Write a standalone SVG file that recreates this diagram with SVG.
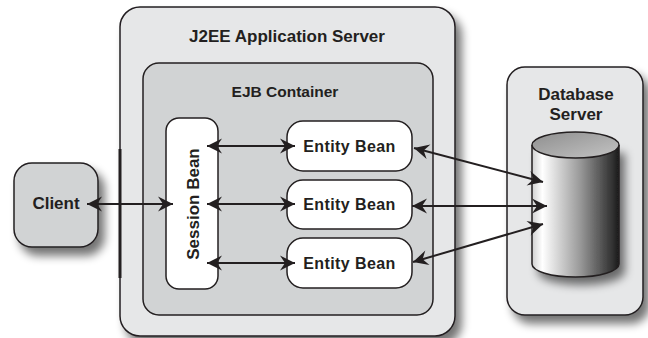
<svg xmlns="http://www.w3.org/2000/svg" width="648" height="338" viewBox="0 0 648 338">
<style>
.box{stroke:#231f20;stroke-width:1.5}
.t{font-family:"Liberation Sans",Arial,sans-serif;font-weight:bold;fill:#231f20}
.conn{stroke:#231f20;stroke-width:2;fill:none;marker-start:url(#ah);marker-end:url(#ah)}
</style>
<defs>
<marker id="ah" markerUnits="userSpaceOnUse" viewBox="-16 -8 17 16" refX="0" refY="0" markerWidth="17" markerHeight="16" orient="auto-start-reverse">
<path d="M0,0 L-15,-7.5 L-10,0 L-15,7.5 Z" fill="#231f20"/>
</marker>
<filter id="sh" x="-20%" y="-20%" width="150%" height="150%">
<feGaussianBlur in="SourceAlpha" stdDeviation="5"/>
<feOffset dx="6" dy="8" result="b"/>
<feComponentTransfer><feFuncA type="linear" slope="0.55"/></feComponentTransfer>
<feMerge><feMergeNode/><feMergeNode in="SourceGraphic"/></feMerge>
</filter>
<linearGradient id="body" x1="0" y1="0" x2="1" y2="0">
<stop offset="0" stop-color="#d0d0d0"/>
<stop offset="0.12" stop-color="#ffffff"/>
<stop offset="0.55" stop-color="#9a9a9a"/>
<stop offset="0.95" stop-color="#2a2a2a"/>
<stop offset="1" stop-color="#1a1a1a"/>
</linearGradient>
<linearGradient id="top" x1="0" y1="0" x2="1" y2="1">
<stop offset="0" stop-color="#8e8e8e"/>
<stop offset="1" stop-color="#c4c4c4"/>
</linearGradient>
</defs>

<g id="j2ee-server">
<rect class="box" x="120" y="7" width="335" height="329" rx="20" fill="#e6e7e8" filter="url(#sh)"/>
<text class="t" x="287" y="42" font-size="17" text-anchor="middle">J2EE Application Server</text>
</g>
<g id="boundary">
<line x1="120" y1="149" x2="120" y2="278" stroke="#231f20" stroke-width="3"/>
</g>
<g id="ejb-container">
<rect class="box" x="143" y="63" width="290" height="252" rx="16" fill="#d1d3d4"/>
<text class="t" x="285" y="97" font-size="15.5" text-anchor="middle">EJB Container</text>
</g>
<g id="session-bean">
<rect class="box" x="166" y="118" width="52" height="171" rx="13" fill="#ffffff"/>
<text class="t" transform="translate(199,204) rotate(-90)" x="0" y="0" font-size="17" text-anchor="middle">Session Bean</text>
</g>
<g id="entity-bean-1">
<rect class="box" x="287" y="121" width="125" height="50" rx="16" fill="#ffffff"/>
<text class="t" x="349.5" y="152" font-size="16" letter-spacing="0.4" text-anchor="middle">Entity Bean</text>
</g>
<g id="entity-bean-2">
<rect class="box" x="287" y="180" width="125" height="49" rx="16" fill="#ffffff"/>
<text class="t" x="349.5" y="210" font-size="16" letter-spacing="0.4" text-anchor="middle">Entity Bean</text>
</g>
<g id="entity-bean-3">
<rect class="box" x="287" y="238" width="125" height="50" rx="16" fill="#ffffff"/>
<text class="t" x="349.5" y="268.5" font-size="16" letter-spacing="0.4" text-anchor="middle">Entity Bean</text>
</g>
<g id="client">
<rect class="box" x="14" y="163" width="84" height="84" rx="18" fill="#d1d3d4" filter="url(#sh)"/>
<text class="t" x="56" y="209" font-size="17" text-anchor="middle">Client</text>
</g>
<g id="database-server">
<rect class="box" x="507" y="67" width="136" height="248" rx="18" fill="#e6e7e8" filter="url(#sh)"/>
<text class="t" x="576" y="100" font-size="17" text-anchor="middle">Database</text>
<text class="t" x="576" y="119.5" font-size="17" text-anchor="middle">Server</text>
<g id="database" filter="url(#sh)">
<path d="M532,145 L532,264 A43.5,13 0 0 0 619,264 L619,145 Z" fill="url(#body)"/>
</g>
<path d="M532,145 L532,264 A43.5,13 0 0 0 619,264 L619,145" fill="none" stroke="#231f20" stroke-width="1.5"/>
<ellipse cx="575.5" cy="145" rx="43.5" ry="13" fill="url(#top)" stroke="#231f20" stroke-width="1.5"/>
</g>

<g id="connectors">
<line class="conn" x1="87" y1="204" x2="173" y2="204"/>
<line class="conn" x1="207" y1="146" x2="295" y2="146"/>
<line class="conn" x1="207" y1="204" x2="295" y2="204"/>
<line class="conn" x1="207" y1="263" x2="295" y2="263"/>
<line class="conn" x1="414" y1="148" x2="543" y2="182"/>
<line class="conn" x1="412" y1="206" x2="547" y2="206"/>
<line class="conn" x1="413" y1="262" x2="543" y2="224"/>
</g>
</svg>
